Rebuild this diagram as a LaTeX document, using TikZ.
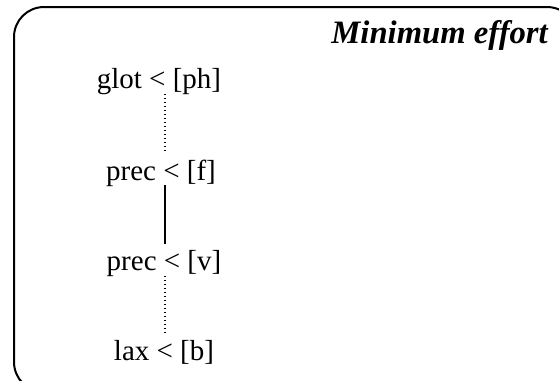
\documentclass[tikz,border=0pt]{standalone}
\usepackage{fontspec}
\setmainfont{Liberation Serif}
\usetikzlibrary{positioning}
\tikzset{
  rule/.style={font=\fontsize{21.75}{26}\selectfont, inner sep=0pt,
    text height=0.7em, text depth=0.22em, anchor=base},
  title/.style={font=\fontsize{24.5}{29}\selectfont\bfseries\itshape,
    inner sep=0pt, anchor=base east},
  weak/.style={line width=1pt, dash pattern=on 1pt off 2pt,
    shorten <=2pt, shorten >=12.5pt},
  strong/.style={line width=1.1pt, shorten <=1.2pt, shorten >=12.5pt}
}
\begin{document}
\begin{tikzpicture}[x=0.75pt, y=-0.75pt]
  \useasboundingbox (0,0) rectangle (559,380);
  %% frame
  \draw[line width=1.5pt, rounded corners=22.5pt] (14,7) rectangle (577,392);
  \node[title] (head) at (548,43) {Minimum effort};

  %% ranking
  \coordinate (spine) at (165,0);
  \node[rule] (glot) at (159,88) {glot < [ph]};
  \node[rule] (precf) at (161,180) {prec < [f]};
  \node[rule] (precv) at (164,270) {prec < [v]};
  \node[rule] (lax) at (164,360) {lax < [b]};

  %% links
  \draw[weak] (glot.south -| spine) -- (precf.north -| spine);
  \draw[strong] (precf.south -| spine) -- (precv.north -| spine);
  \draw[weak] (precv.south -| spine) -- (lax.north -| spine);
\end{tikzpicture}
\end{document}
